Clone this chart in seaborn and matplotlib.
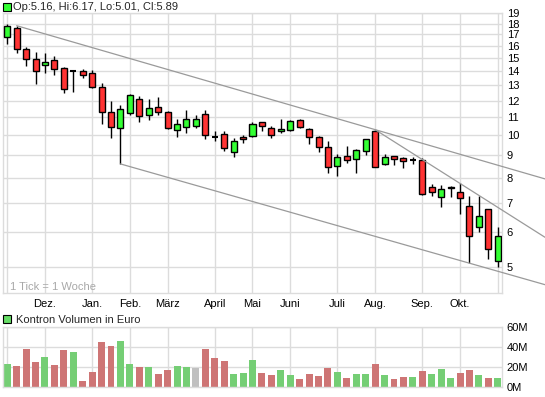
import numpy as np
import pandas as pd
import seaborn as sns
import matplotlib
matplotlib.use("Agg")
import matplotlib.pyplot as plt
import matplotlib.ticker as mticker
from matplotlib.patches import Rectangle

# weekly candles in EUR, oldest week first
opens = [16.76, 17.56, 15.73, 14.92, 14.45, 14.84, 14.25, 14.00, 14.00, 13.90,
         12.90, 11.28, 10.37, 11.25, 12.10, 11.10, 11.60, 11.30, 10.27, 10.44,
         10.50, 11.20, 9.93, 10.05, 9.15, 9.90, 9.95, 10.70, 10.40, 10.20,
         10.30, 10.85, 10.34, 9.90, 9.40, 8.52, 8.95, 8.82, 9.20, 10.20,
         8.60, 8.95, 8.88, 8.76, 8.80, 7.60, 7.24, 7.62, 7.40, 6.88,
         6.17, 6.77, 5.16]
highs = [17.96, 17.80, 15.90, 15.50, 15.40, 15.15, 14.33, 14.00, 14.15, 14.10,
         13.15, 11.98, 11.70, 12.40, 12.30, 12.10, 12.20, 11.35, 10.90, 11.45,
         11.15, 11.40, 10.20, 10.20, 9.85, 10.00, 10.70, 10.72, 10.50, 10.90,
         10.86, 10.90, 10.40, 9.95, 9.68, 9.04, 9.45, 9.30, 9.80, 10.30,
         9.05, 8.97, 8.93, 8.93, 8.85, 7.75, 7.70, 7.64, 7.76, 7.25,
         7.27, 6.77, 6.17]
lows = [16.20, 15.40, 14.40, 13.10, 13.85, 13.70, 12.50, 12.55, 13.50, 12.80,
        10.60, 9.85, 8.60, 11.10, 10.70, 10.85, 11.15, 10.35, 9.90, 10.10,
        10.37, 9.80, 9.70, 9.20, 8.90, 9.60, 9.93, 10.20, 9.85, 10.10,
        10.25, 10.38, 9.55, 9.15, 8.18, 8.07, 8.66, 8.20, 9.00, 8.45,
        8.55, 8.55, 8.40, 8.60, 7.30, 7.25, 6.85, 7.22, 6.60, 5.10,
        6.00, 5.22, 5.01]
closes = [17.75, 15.73, 14.92, 14.05, 14.70, 14.20, 12.75, 14.00, 13.70, 12.90,
          11.28, 10.44, 11.50, 12.36, 11.08, 11.55, 11.28, 10.37, 10.60, 10.90,
          10.90, 10.00, 9.93, 9.37, 9.69, 9.80, 10.60, 10.50, 10.03, 10.35,
          10.80, 10.45, 9.92, 9.40, 8.48, 8.90, 8.77, 9.25, 9.80, 8.45,
          8.90, 8.83, 8.72, 8.76, 7.33, 7.40, 7.53, 7.56, 7.17, 5.90,
          6.53, 5.50, 5.89]
# weekly turnover, million EUR
volumes = [22.7, 20.7, 37.7, 24.7, 29.7, 21.7, 36.7, 34.7, 5.7, 14.7,
           44.7, 40.7, 45.7, 22.7, 19.7, 19.7, 12.7, 16.7, 20.7, 19.7,
           18.7, 37.7, 28.7, 25.7, 12.7, 13.7, 26.7, 13.7, 11.7, 16.7,
           11.7, 7.7, 12.7, 10.7, 18.7, 14.7, 8.7, 12.7, 12.7, 22.7,
           11.7, 7.7, 9.7, 9.7, 15.7, 12.7, 17.7, 8.7, 13.7, 16.7,
           11.7, 8.7, 8.7]

month_pos = [4, 9, 13, 17, 22, 26, 30, 35, 39, 44, 48]
month_labels = ["Dez.", "Jan.", "Feb.", "März", "April", "Mai", "Juni",
                "Juli", "Aug.", "Sep.", "Okt."]
price_ticks = list(range(5, 20))
vol_ticks = [0, 20, 40, 60]
vol_labels = ["0M", "20M", "40M", "60M"]

# trend lines: start week, second anchor week, which extreme
trends = [(1, 39, "high"), (39, 48, "high"), (12, 49, "low")]

header = "Op:5.16, Hi:6.17, Lo:5.01, Cl:5.89"

sns.set_style("white")
plt.rcParams["font.family"] = ["Liberation Sans", "DejaVu Sans"]
plt.rcParams["font.size"] = 8

GRID = "#dcdcdc"
UP, DOWN = "#33ff33", "#ff3333"
vol_palette = {"up": "#66dd66", "down": "#dd6666", "flat": "#c0c0c0"}

df = pd.DataFrame({"week": np.arange(len(closes)), "open": opens, "high": highs,
                   "low": lows, "close": closes, "volume": volumes})
chg = df["close"].diff().fillna(1)
df["dir"] = np.where(chg > 0, "up", np.where(chg < 0, "down", "flat"))

fig = plt.figure(figsize=(5.45, 3.97), dpi=100)
ax = fig.add_axes([0.0046, 0.262, 0.9174, 0.7045])
axv = fig.add_axes([0.0046, 0.0252, 0.9174, 0.1511])

# price panel
ax.set_yscale("log")
ax.set_xlim(-0.5, 52.5)
ax.set_ylim(4.36, 19)
ax.yaxis.set_major_locator(mticker.FixedLocator(price_ticks))
ax.yaxis.set_major_formatter(mticker.FixedFormatter([str(t) for t in price_ticks]))
ax.yaxis.set_minor_locator(mticker.NullLocator())
ax.yaxis.tick_right()
ax.set_xticks(month_pos, month_labels)
ax.tick_params(length=0, labelsize=8, colors="black")
ax.tick_params(axis="x", pad=4)
ax.tick_params(axis="y", pad=3)
ax.grid(True, color=GRID, lw=1.0)
for x in (0, len(closes) - 1):
    ax.axvline(x, color=GRID, lw=1.0, zorder=0.5)
for s in ax.spines.values():
    s.set_color(GRID)
    s.set_linewidth(1.0)
ax.set_axisbelow(True)

w = 0.64
for _, r in df.iterrows():
    ax.vlines(r["week"], r["low"], r["high"], color="black", lw=1.0, zorder=2)
    if r["close"] == r["open"]:
        ax.hlines(r["close"], r["week"] - w / 2, r["week"] + w / 2,
                  color="black", lw=1.5, zorder=3)
    else:
        lo, hi = sorted((r["open"], r["close"]))
        ax.bar(r["week"], hi - lo, bottom=lo, width=w,
               color=UP if r["close"] > r["open"] else DOWN,
               edgecolor="black", lw=1.0, zorder=3)

x_end = ax.transData.inverted().transform(fig.transFigure.transform((1.0, 0.5)))[0]
for a, b, kind in trends:
    ya, yb = df[kind][a], df[kind][b]
    k = (np.log(yb) - np.log(ya)) / (b - a)
    xs = np.array([a, x_end])
    ax.plot(xs, np.exp(np.log(ya) + k * (xs - a)), color="#9a9a9a", lw=0.9,
            clip_on=False, zorder=4)

ax.text(0.015, 0.011, "1 Tick = 1 Woche", transform=ax.transAxes,
        color="#a8a8a8", fontsize=8, va="baseline")

# volume panel
sns.barplot(data=df, x="week", y="volume", hue="dir", palette=vol_palette,
            native_scale=True, width=0.74, dodge=False, legend=False,
            linewidth=0, ax=axv)
axv.set_xlim(-0.5, 52.5)
axv.set_ylim(0, 60)
axv.set_xlabel("")
axv.set_ylabel("")
axv.set_xticks(month_pos, [""] * len(month_pos))
axv.set_yticks(vol_ticks, vol_labels)
axv.yaxis.tick_right()
axv.tick_params(length=0, labelsize=8, colors="black", pad=3)
axv.grid(True, color=GRID, lw=1.0)
axv.axvline(0, color=GRID, lw=1.0, zorder=0.5)
axv.set_axisbelow(True)
for s in axv.spines.values():
    s.set_color(GRID)
    s.set_linewidth(1.0)

# legend boxes and titles
H = 397.0
W = 545.0
fig.patches.append(Rectangle((2.5 / W, 1 - 11 / H), 8 / W, 8 / H, transform=fig.transFigure,
                             facecolor=UP, edgecolor="black", lw=0.8))
fig.text(13 / W, 1 - 10.5 / H, header, fontsize=8, va="baseline")
fig.patches.append(Rectangle((3 / W, 1 - 323 / H), 8 / W, 8 / H, transform=fig.transFigure,
                             facecolor="#66dd66", edgecolor="black", lw=0.8))
fig.text(16 / W, 1 - 323 / H, "Kontron Volumen in Euro", fontsize=8, va="baseline")

fig.savefig("out.png", dpi=100)
